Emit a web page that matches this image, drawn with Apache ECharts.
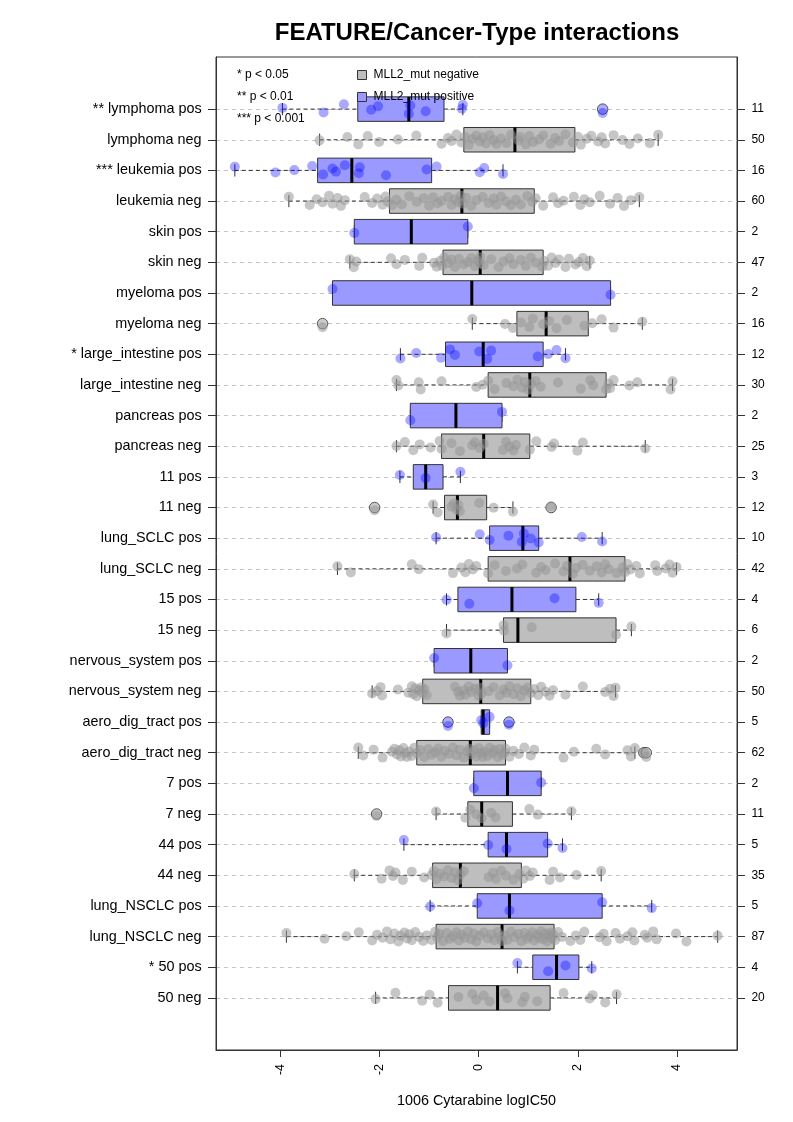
<!DOCTYPE html>
<html>
<head>
<meta charset="utf-8">
<script src="https://cdn.jsdelivr.net/npm/echarts@6/dist/echarts.min.js"></script>
<style>
html,body{margin:0;padding:0;background:#fff;}
#chart{width:793px;height:1122px;}
</style>
</head>
<body>
<div id="chart"></div>
<script>
// ---------------- data (rows listed top to bottom) ----------------
const CATEGORIES = [
  '** lymphoma pos','lymphoma neg','*** leukemia pos','leukemia neg','skin pos','skin neg',
  'myeloma pos','myeloma neg','* large_intestine pos','large_intestine neg','pancreas pos','pancreas neg',
  '11 pos','11 neg','lung_SCLC pos','lung_SCLC neg','15 pos','15 neg',
  'nervous_system pos','nervous_system neg','aero_dig_tract pos','aero_dig_tract neg','7 pos','7 neg',
  '44 pos','44 neg','lung_NSCLC pos','lung_NSCLC neg','* 50 pos','50 neg'
];
const COUNTS = [11,50,16,60,2,47,2,16,12,30,2,25,3,12,10,42,4,6,2,50,5,62,2,11,5,35,5,87,4,20];
const X_TICKS = [-4,-2,0,2,4];

// [whisker low, Q1, median, Q3, whisker high]
const BOX_STATS = [
  [-3.96,-2.44,-1.41,-0.70,-0.32],
  [-3.21,-0.30,0.73,1.94,3.62],
  [-4.92,-3.25,-2.56,-0.95,0.49],
  [-3.83,-1.80,-0.34,1.12,3.24],
  [-2.51,-2.51,-1.36,-0.22,-0.22],
  [-2.60,-0.72,0.03,1.30,2.24],
  [-2.95,-2.95,-0.14,2.66,2.66],
  [-0.13,0.77,1.36,2.21,3.30],
  [-1.58,-0.67,0.09,1.30,1.75],
  [-1.66,0.19,1.03,2.57,3.91],
  [-1.38,-1.38,-0.46,0.47,0.47],
  [-1.66,-0.75,0.10,1.03,3.36],
  [-1.59,-1.32,-1.07,-0.72,-0.37],
  [-0.92,-0.69,-0.43,0.16,0.69],
  [-0.86,0.22,0.89,1.21,2.49],
  [-2.85,0.19,1.84,2.95,3.99],
  [-0.65,-0.42,0.67,1.96,2.42],
  [-0.65,0.50,0.79,2.77,3.08],
  [-0.90,-0.90,-0.16,0.58,0.58],
  [-2.15,-1.13,0.04,1.05,2.76],
  [0.05,0.05,0.09,0.22,0.22],
  [-2.43,-1.25,-0.17,0.54,3.15],
  [-0.10,-0.10,0.58,1.26,1.26],
  [-0.86,-0.22,0.06,0.68,1.87],
  [-1.51,0.19,0.56,1.39,1.69],
  [-2.51,-0.93,-0.37,0.86,2.47],
  [-0.98,-0.03,0.62,2.49,3.49],
  [-3.88,-0.86,0.47,1.52,4.82],
  [0.78,1.09,1.57,2.02,2.28],
  [-2.08,-0.61,0.38,1.44,2.78]
];

const OUTLIERS = [
  [2.50],[],[],[],[],[],[],[-3.15],[],[],[],[],[],[-2.10,1.46],[],[],[],[],[],[],
  [-0.62,0.61],[3.33,3.38],[],[-2.06],[],[],[],[],[],[]
];

const POINTS = [
  [-3.96,-3.13,-2.72,-2.17,-2.03,-1.41,-1.38,-1.07,-0.34,-0.32,2.50],
  [-3.21,-2.65,-2.43,-2.24,-2.01,-1.63,-1.26,-0.75,-0.62,-0.55,-0.45,-0.35,-0.28,-0.20,-0.13,-0.05,0.02,0.08,0.15,0.22,0.30,0.36,0.45,0.56,0.65,0.80,0.84,0.95,1.02,1.10,1.22,1.30,1.45,1.54,1.62,1.75,1.90,2.00,2.06,2.18,2.27,2.41,2.48,2.55,2.72,2.90,3.04,3.21,3.45,3.62],
  [-4.92,-4.10,-3.72,-3.36,-3.14,-2.95,-2.88,-2.70,-2.42,-2.40,-1.87,-1.05,-0.85,0.02,0.11,0.49],
  [-3.83,-3.41,-3.27,-3.15,-3.02,-2.95,-2.85,-2.78,-2.70,-2.30,-2.15,-2.05,-1.94,-1.88,-1.84,-1.75,-1.66,-1.55,-1.40,-1.25,-1.11,-1.00,-0.92,-0.83,-0.75,-0.62,-0.55,-0.48,-0.41,-0.36,-0.32,-0.25,-0.15,-0.05,0.08,0.20,0.30,0.36,0.45,0.55,0.65,0.75,0.85,0.98,1.08,1.15,1.30,1.50,1.60,1.71,1.92,2.05,2.13,2.24,2.44,2.65,2.80,2.93,3.07,3.24],
  [-2.51,-0.22],
  [-2.60,-2.52,-2.47,-1.77,-1.66,-1.49,-1.20,-1.14,-0.90,-0.85,-0.78,-0.74,-0.70,-0.62,-0.55,-0.48,-0.40,-0.30,-0.22,-0.15,-0.08,-0.02,0.02,0.03,0.10,0.25,0.40,0.50,0.62,0.70,0.85,0.95,1.05,1.15,1.28,1.32,1.40,1.47,1.55,1.62,1.75,1.82,1.95,2.02,2.10,2.18,2.24],
  [-2.95,2.66],
  [-3.15,-0.13,0.53,0.69,0.85,1.02,1.09,1.30,1.42,1.57,1.78,2.13,2.29,2.48,2.72,3.30],
  [-1.58,-1.26,-0.76,-0.58,-0.48,0.01,0.17,0.25,1.19,1.40,1.57,1.75],
  [-1.66,-1.62,-1.21,-1.17,-0.75,-0.05,0.08,0.19,0.32,0.56,0.70,0.78,0.88,0.93,1.00,1.06,1.15,1.25,1.60,2.06,2.25,2.31,2.57,2.62,2.65,2.72,3.04,3.20,3.87,3.91],
  [-1.38,0.47],
  [-1.66,-1.49,-1.32,-1.19,-0.97,-0.79,-0.75,-0.55,-0.38,-0.13,-0.08,0.02,0.10,0.49,0.55,0.62,0.70,0.75,1.03,1.16,1.47,1.52,1.99,2.10,3.36],
  [-1.59,-1.07,-0.37],
  [-2.10,-0.92,-0.83,-0.55,-0.50,-0.45,-0.41,-0.38,0.01,0.30,0.69,1.46],
  [-0.86,0.02,0.22,0.60,0.87,0.91,1.05,1.21,2.08,2.49],
  [-2.85,-2.58,-1.35,-1.21,-0.52,-0.35,-0.27,-0.20,-0.12,-0.05,0.19,0.32,0.55,0.77,0.88,1.16,1.26,1.35,1.54,1.71,1.78,1.90,1.96,2.10,2.24,2.38,2.48,2.55,2.62,2.78,2.90,2.95,3.00,3.06,3.18,3.25,3.56,3.60,3.77,3.85,3.91,3.99],
  [-0.65,-0.19,1.53,2.42],
  [-0.65,0.50,0.51,1.07,2.77,3.08],
  [-0.90,0.58],
  [-2.15,-2.05,-1.98,-1.95,-1.63,-1.42,-1.35,-1.32,-1.28,-1.25,-1.20,-1.16,-1.13,-1.10,-1.05,-0.48,-0.42,-0.38,-0.30,-0.27,-0.20,-0.15,-0.08,0.00,0.02,0.06,0.20,0.30,0.42,0.50,0.56,0.62,0.70,0.78,0.85,0.92,0.98,1.05,1.12,1.20,1.26,1.35,1.43,1.50,1.75,2.10,2.55,2.65,2.72,2.76],
  [-0.62,0.05,0.09,0.22,0.61],
  [-2.43,-2.33,-2.12,-1.94,-1.75,-1.70,-1.65,-1.60,-1.57,-1.52,-1.48,-1.45,-1.40,-1.35,-1.30,-1.25,-1.18,-1.10,-1.02,-0.95,-0.88,-0.82,-0.75,-0.68,-0.60,-0.52,-0.45,-0.38,-0.30,-0.22,-0.19,-0.15,-0.10,-0.05,0.00,0.05,0.08,0.12,0.18,0.22,0.28,0.32,0.38,0.42,0.48,0.52,0.54,0.62,0.70,0.81,0.92,1.05,1.12,1.71,1.92,2.37,2.55,3.00,3.07,3.15,3.33,3.38],
  [-0.10,1.26],
  [-2.06,-0.86,-0.27,-0.17,-0.05,0.06,0.25,0.34,1.02,1.19,1.87],
  [-1.51,0.19,0.56,1.39,1.69],
  [-2.51,-1.96,-1.80,-1.73,-1.68,-1.53,-1.35,-1.10,-0.95,-0.91,-0.85,-0.78,-0.70,-0.62,-0.55,-0.48,-0.42,-0.37,-0.30,0.20,0.29,0.35,0.45,0.55,0.70,0.82,0.90,0.95,1.03,1.09,1.43,1.50,1.64,1.97,2.47],
  [-0.98,-0.03,0.62,2.49,3.49],
  [-3.88,-3.11,-2.67,-2.42,-2.15,-2.05,-1.94,-1.85,-1.78,-1.70,-1.62,-1.58,-1.50,-1.45,-1.40,-1.35,-1.28,-1.20,-1.12,-1.05,-0.95,-0.88,-0.84,-0.80,-0.72,-0.65,-0.58,-0.52,-0.45,-0.40,-0.35,-0.28,-0.22,-0.15,-0.10,-0.05,0.02,0.10,0.18,0.25,0.32,0.38,0.43,0.47,0.52,0.58,0.65,0.72,0.80,0.86,0.92,0.98,1.02,1.08,1.12,1.18,1.22,1.26,1.30,1.34,1.38,1.42,1.45,1.48,1.50,1.54,1.60,1.68,1.85,1.96,2.05,2.13,2.44,2.52,2.58,2.76,2.85,3.00,3.10,3.14,3.35,3.40,3.52,3.59,3.98,4.19,4.82],
  [0.78,1.40,1.75,2.28],
  [-2.08,-1.68,-1.14,-0.99,-0.83,-0.41,-0.13,-0.05,0.10,0.22,0.53,0.58,0.88,0.93,1.18,1.71,2.24,2.30,2.55,2.78]
];

// ---------------- styling constants ----------------
const FONT = '"Liberation Sans", Arial, Helvetica, sans-serif';
const GRAY_BOX = '#bebebe';
const BLUE_BOX = '#9999ff';
const GRAY_PT = 'rgba(150,150,150,0.68)';
const BLUE_PT = 'rgba(0,0,255,0.42)';
const EDGE = '#333333';
// vertical strip-chart jitter pattern (layout only, in row units)
const JITTER = [0.04,-0.11,0.16,-0.02,0.09,-0.15,0.12,-0.07,0.01,0.14,-0.13,0.06,-0.04,0.17,-0.09,0.10,-0.16,0.03,0.13,-0.06,0.08,-0.12,0.15,-0.01,-0.14];

const N = CATEGORIES.length;
const rowPos = i => N - i;           // top row at N, bottom row at 1
const ROW_VALUES = CATEGORIES.map((_, i) => rowPos(i));
const isPos = name => /pos$/.test(name);

const boxNeg = [], boxPos = [], outNeg = [], outPos = [], ptNeg = [], ptPos = [];
CATEGORIES.forEach((name, i) => {
  const y = rowPos(i);
  const pos = isPos(name);
  (pos ? boxPos : boxNeg).push([y].concat(BOX_STATS[i]));
  OUTLIERS[i].forEach(v => (pos ? outPos : outNeg).push([v, y]));
  POINTS[i].forEach((v, k) => (pos ? ptPos : ptNeg).push([v, y + JITTER[(k + i * 3) % JITTER.length]]));
});

function boxRenderer(fill) {
  return function (params, api) {
    const y = api.value(0);
    const lo = api.coord([api.value(1), y]);
    const q1 = api.coord([api.value(2), y]);
    const md = api.coord([api.value(3), y]);
    const q3 = api.coord([api.value(4), y]);
    const hi = api.coord([api.value(5), y]);
    const hBox = Math.abs(api.size([0, 0.8])[1]);
    const hSt = Math.abs(api.size([0, 0.4])[1]);
    const dash = {stroke: EDGE, lineWidth: 1, lineDash: [4, 3]};
    const solid = {stroke: EDGE, lineWidth: 1};
    return {
      type: 'group',
      children: [
        {type: 'line', shape: {x1: lo[0], y1: lo[1], x2: q1[0], y2: q1[1]}, style: dash},
        {type: 'line', shape: {x1: q3[0], y1: q3[1], x2: hi[0], y2: hi[1]}, style: dash},
        {type: 'line', shape: {x1: lo[0], y1: lo[1] - hSt / 2, x2: lo[0], y2: lo[1] + hSt / 2}, style: solid},
        {type: 'line', shape: {x1: hi[0], y1: hi[1] - hSt / 2, x2: hi[0], y2: hi[1] + hSt / 2}, style: solid},
        {type: 'rect', shape: {x: q1[0], y: q1[1] - hBox / 2, width: q3[0] - q1[0], height: hBox},
          style: {fill: fill, stroke: EDGE, lineWidth: 1}},
        {type: 'line', shape: {x1: md[0], y1: md[1] - hBox / 2, x2: md[0], y2: md[1] + hBox / 2},
          style: {stroke: '#000', lineWidth: 3}}
      ]
    };
  };
}

const chart = echarts.init(document.getElementById('chart'), null, {renderer: 'canvas'});
chart.setOption({
  animation: false,
  backgroundColor: '#ffffff',
  textStyle: {fontFamily: FONT},
  title: {
    text: 'FEATURE/Cancer-Type interactions',
    left: 472, top: 16, textAlign: 'center',
    textStyle: {fontFamily: FONT, fontSize: 24, fontWeight: 'bold', color: '#000'}
  },
  legend: {
    data: ['MLL2_mut negative', 'MLL2_mut positive'],
    orient: 'vertical', left: 357, top: 68, padding: 0,
    itemWidth: 9, itemHeight: 9, itemGap: 8, icon: 'rect', selectedMode: false,
    itemStyle: {borderColor: EDGE, borderWidth: 1},
    textStyle: {fontFamily: FONT, fontSize: 12, color: '#000', lineHeight: 14, padding: [0, 0, 0, 2]}
  },
  graphic: [
    {type: 'text', left: 237, top: 69, z: 0, style: {text: '* p < 0.05', font: '12px ' + FONT, fill: '#000'}},
    {type: 'text', left: 237, top: 91, z: 0, style: {text: '** p < 0.01', font: '12px ' + FONT, fill: '#000'}},
    {type: 'text', left: 237, top: 113, z: 0, style: {text: '*** p < 0.001', font: '12px ' + FONT, fill: '#000'}}
  ],
  grid: {left: 216, right: 56, top: 57, bottom: 72, show: true, borderColor: EDGE, borderWidth: 1, backgroundColor: 'transparent'},
  xAxis: {
    type: 'value', min: -5.30, max: 5.21,
    name: '1006 Cytarabine logIC50', nameLocation: 'middle', nameGap: 44,
    nameTextStyle: {fontFamily: FONT, fontSize: 14.4, color: '#000'},
    axisLine: {show: true, onZero: false, lineStyle: {color: EDGE, width: 1}},
    axisTick: {show: true, customValues: X_TICKS, length: 7, lineStyle: {color: EDGE}},
    axisLabel: {customValues: X_TICKS, rotate: 90, margin: 14, fontSize: 12.5, color: '#000', fontFamily: FONT,
      formatter: v => String(v)},
    splitLine: {show: false}
  },
  yAxis: [
    {
      type: 'value', min: -0.7, max: 31.7, position: 'left',
      axisLine: {show: true, onZero: false, lineStyle: {color: EDGE, width: 1}},
      axisTick: {show: true, customValues: ROW_VALUES, length: 8, lineStyle: {color: EDGE}},
      axisLabel: {customValues: ROW_VALUES, margin: 14.4, fontSize: 14.4, color: '#000', fontFamily: FONT,
        formatter: v => CATEGORIES[N - Math.round(v)]},
      splitLine: {show: true, lineStyle: {color: '#c4c4c4', width: 1, type: [4, 4]}}
    },
    {
      type: 'value', min: -0.7, max: 31.7, position: 'right',
      axisLine: {show: true, onZero: false, lineStyle: {color: EDGE, width: 1}},
      axisTick: {show: true, customValues: ROW_VALUES, length: 8, lineStyle: {color: EDGE}},
      axisLabel: {customValues: ROW_VALUES, margin: 14.4, fontSize: 12, color: '#000', fontFamily: FONT,
        formatter: v => String(COUNTS[N - Math.round(v)])},
      splitLine: {show: false}
    }
  ],
  series: [
    {name: 'MLL2_mut negative', type: 'custom', z: 2, renderItem: boxRenderer(GRAY_BOX),
      itemStyle: {color: GRAY_BOX}, dimensions: ['row','lo','q1','med','q3','hi'],
      encode: {x: [1,2,3,4,5], y: 0}, data: boxNeg},
    {name: 'MLL2_mut positive', type: 'custom', z: 2, renderItem: boxRenderer(BLUE_BOX),
      itemStyle: {color: BLUE_BOX}, dimensions: ['row','lo','q1','med','q3','hi'],
      encode: {x: [1,2,3,4,5], y: 0}, data: boxPos},
    {name: 'outliers neg', type: 'scatter', z: 3, symbol: 'circle', symbolSize: 10.5,
      itemStyle: {color: GRAY_BOX, borderColor: EDGE, borderWidth: 1}, data: outNeg},
    {name: 'outliers pos', type: 'scatter', z: 3, symbol: 'circle', symbolSize: 10.5,
      itemStyle: {color: BLUE_BOX, borderColor: EDGE, borderWidth: 1}, data: outPos},
    {name: 'points neg', type: 'scatter', z: 4, symbol: 'circle', symbolSize: 10,
      itemStyle: {color: GRAY_PT}, data: ptNeg},
    {name: 'points pos', type: 'scatter', z: 4, symbol: 'circle', symbolSize: 10,
      itemStyle: {color: BLUE_PT}, data: ptPos}
  ]
});
</script>
</body>
</html>
